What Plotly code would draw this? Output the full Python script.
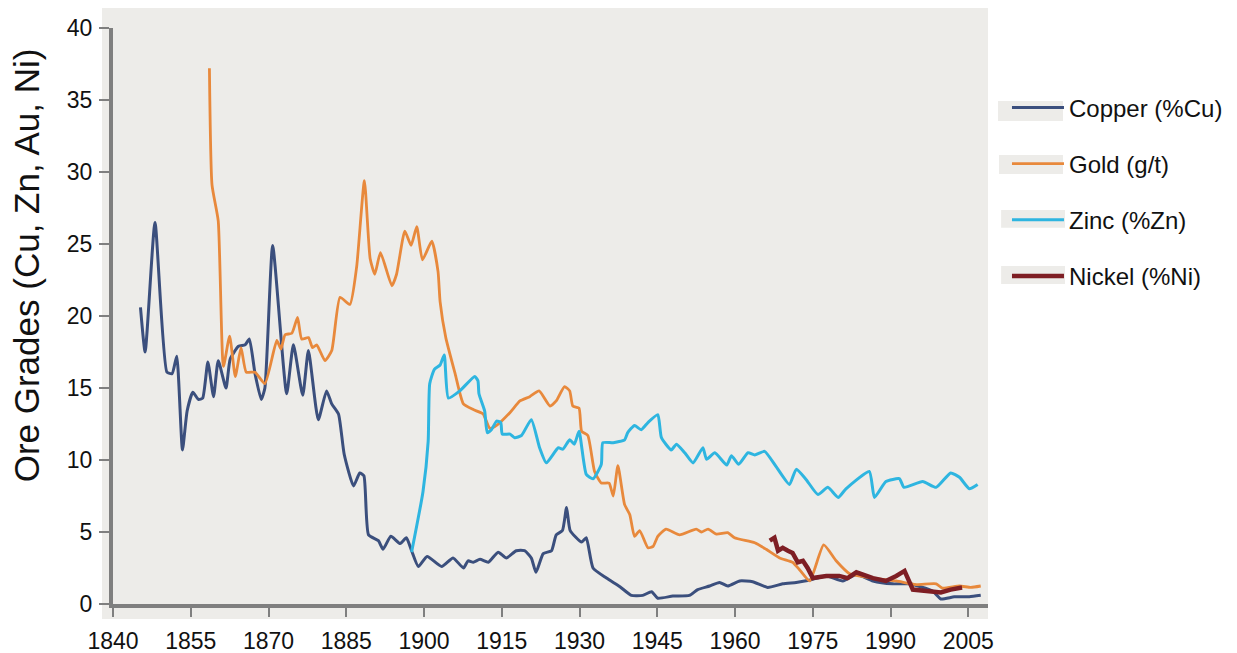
import plotly.graph_objects as go

# ---------------- data ----------------
copper_years = [1845.3, 1846.2, 1848.1, 1850.4, 1851.4, 1852.3, 1853.4, 1854.3, 1855.4, 1856.5,
                1857.3, 1858.3, 1859.4, 1860.3, 1861.8, 1862.6, 1864.2, 1865.5, 1866.3, 1867.4,
                1868.6, 1869.3, 1870.8, 1873.5, 1874.8, 1876.6, 1877.7, 1879.6, 1881.2, 1882.2,
                1883.5, 1884.6, 1886.4, 1887.6, 1888.4, 1889.3, 1891.2, 1892.1, 1893.6, 1895.4,
                1896.6, 1897.6, 1898.9, 1900.6, 1903.4, 1905.6, 1907.6, 1908.5, 1909.5, 1910.8,
                1912.4, 1914.3, 1915.9, 1917.8, 1919.4, 1920.7, 1921.6, 1923.0, 1924.6, 1925.5,
                1926.7, 1927.5, 1928.2, 1930.4, 1931.3, 1932.6, 1935.2, 1937.8, 1940.0, 1942.2,
                1943.9, 1945.1, 1948.0, 1951.2, 1952.8, 1955.1, 1957.0, 1958.6, 1960.9, 1963.4,
                1966.3, 1969.2, 1971.8, 1974.3, 1977.6, 1980.8, 1983.4, 1986.6, 1990.4, 1993.6,
                1998.1, 1999.7, 2002.3, 2005.2, 2007.4]
copper_values = [20.6, 17.5, 26.5, 16.1, 16.0, 17.2, 10.7, 13.4, 14.7, 14.2,
                 14.3, 16.8, 14.4, 16.9, 15.0, 17.0, 17.9, 18.0, 18.4, 16.0,
                 14.2, 15.0, 24.9, 14.6, 18.0, 14.5, 17.6, 12.8, 14.8, 13.9,
                 13.2, 10.4, 8.2, 9.1, 8.9, 4.8, 4.4, 3.8, 4.7, 4.2,
                 4.6, 3.7, 2.6, 3.3, 2.6, 3.2, 2.5, 3.0, 2.9, 3.1,
                 2.9, 3.6, 3.2, 3.7, 3.7, 3.2, 2.2, 3.5, 3.7, 4.8,
                 5.1, 6.7, 5.1, 4.3, 4.6, 2.5, 1.8, 1.2, 0.6, 0.6,
                 0.85, 0.4, 0.55, 0.6, 1.0, 1.25, 1.5, 1.25, 1.6, 1.55,
                 1.15, 1.4, 1.5, 1.65, 1.95, 1.6, 2.05, 1.6, 1.4, 1.4,
                 0.9, 0.35, 0.5, 0.5, 0.6]

gold_years = [1858.6, 1859.1, 1860.3, 1861.3, 1862.5, 1863.6, 1864.7, 1865.7, 1867.4, 1869.3,
              1871.6, 1872.4, 1873.2, 1874.5, 1875.6, 1876.4, 1877.7, 1878.5, 1879.3, 1880.9,
              1882.2, 1883.8, 1885.7, 1887.0, 1888.5, 1889.6, 1890.5, 1891.6, 1893.8, 1894.7,
              1896.3, 1897.5, 1898.6, 1899.7, 1901.5, 1902.7, 1903.1, 1904.2, 1906.0, 1907.6,
              1909.5, 1911.4, 1912.7, 1914.0, 1916.6, 1918.5, 1920.4, 1922.2, 1924.3, 1925.5,
              1927.1, 1928.1, 1928.7, 1929.9, 1930.4, 1931.6, 1932.9, 1934.2, 1935.7, 1936.5,
              1937.4, 1938.7, 1939.7, 1940.6, 1941.6, 1943.2, 1944.2, 1945.1, 1946.7, 1949.3,
              1952.5, 1953.5, 1954.8, 1956.4, 1958.6, 1959.9, 1963.8, 1966.0, 1968.6, 1971.1,
              1972.4, 1974.4, 1977.1, 1979.5, 1982.1, 1986.6, 1991.1, 1994.9, 1998.8, 2000.0,
              2003.3, 2005.5, 2007.4]
gold_values = [37.2, 29.1, 26.6, 16.5, 18.6, 15.8, 17.8, 16.1, 16.1, 15.3,
               18.3, 17.7, 18.7, 18.8, 19.9, 18.4, 18.5, 17.8, 18.0, 16.9,
               17.6, 21.3, 20.8, 23.4, 29.4, 24.0, 22.9, 24.4, 22.1, 22.9,
               25.9, 24.9, 26.2, 23.9, 25.2, 23.1, 21.0, 18.5, 16.0, 13.9,
               13.5, 13.2, 12.2, 12.4, 13.3, 14.1, 14.4, 14.8, 13.75, 14.1,
               15.1, 14.8, 13.75, 13.6, 12.0, 11.7, 9.2, 8.4, 8.4, 7.5,
               9.6, 6.9, 6.2, 4.7, 5.1, 3.9, 4.0, 4.7, 5.2, 4.8,
               5.2, 5.0, 5.2, 4.85, 4.95, 4.6, 4.25, 3.8, 3.2, 2.9,
               2.4, 1.6, 4.1, 3.0, 2.1, 1.8, 1.6, 1.35, 1.4, 1.1,
               1.25, 1.15, 1.25]

zinc_years = [1897.6, 1899.8, 1900.8, 1901.1, 1902.0, 1903.1, 1903.9, 1904.7, 1906.9, 1909.8,
              1910.4, 1910.6, 1911.7, 1912.2, 1913.0, 1914.0, 1914.8, 1915.1, 1916.6, 1917.5,
              1918.8, 1920.7, 1922.3, 1923.6, 1925.9, 1926.8, 1928.1, 1929.0, 1929.9, 1931.3,
              1932.6, 1934.2, 1934.5, 1936.5, 1938.7, 1939.3, 1940.6, 1941.9, 1943.2, 1945.1,
              1945.8, 1947.7, 1948.7, 1950.3, 1951.9, 1953.8, 1954.5, 1956.1, 1958.4, 1959.3,
              1960.7, 1962.5, 1963.8, 1965.7, 1968.0, 1970.5, 1971.8, 1973.7, 1976.0, 1977.9,
              1979.9, 1981.4, 1985.9, 1986.9, 1989.1, 1991.7, 1992.6, 1996.2, 1998.8, 2001.6,
              2003.3, 2005.2, 2006.8]
zinc_values = [3.6, 7.8, 11.3, 15.3, 16.3, 16.6, 17.3, 14.3, 14.8, 15.8,
               15.5, 14.6, 13.4, 11.9, 12.1, 12.7, 12.6, 11.8, 11.8, 11.55,
               11.7, 12.8, 10.85, 9.8, 10.85, 10.75, 11.4, 11.1, 12.0, 9.0,
               8.7, 9.7, 11.2, 11.2, 11.4, 11.9, 12.4, 12.1, 12.6, 13.15,
               11.55, 10.7, 11.1, 10.5, 9.8, 10.85, 10.05, 10.5, 9.65, 10.3,
               9.7, 10.5, 10.35, 10.6, 9.5, 8.3, 9.35, 8.65, 7.6, 8.1,
               7.4, 8.0, 9.2, 7.4, 8.5, 8.7, 8.1, 8.5, 8.1, 9.1,
               8.8, 8.0, 8.3]

nickel_years = [1966.7, 1967.6, 1968.3, 1969.2, 1970.2, 1971.1, 1972.1, 1973.1, 1974.0, 1975.0,
                1977.6, 1980.1, 1981.7, 1983.4, 1986.6, 1989.1, 1991.1, 1992.7, 1994.3, 1996.2,
                1998.1, 1999.7, 2001.6, 2003.8]
nickel_values = [4.4, 4.6, 3.7, 3.9, 3.7, 3.55, 2.9, 3.0, 2.5, 1.8,
                 1.95, 1.95, 1.8, 2.2, 1.8, 1.6, 1.95, 2.3, 1.0, 0.95,
                 0.9, 0.8, 1.0, 1.15]

series_names = ["Copper (%Cu)", "Gold (g/t)", "Zinc (%Zn)", "Nickel (%Ni)"]
x_ticks = [1840, 1855, 1870, 1885, 1900, 1915, 1930, 1945, 1960, 1975, 1990, 2005]
y_ticks = [0, 5, 10, 15, 20, 25, 30, 35, 40]
y_title = "Ore Grades (Cu, Zn, Au, Ni)"

# ---------------- styling ----------------
colors = ["#3B4F7D", "#E8893C", "#2EB5E0", "#7E1E24"]
widths = [3, 2.8, 3, 4.5]
shapes_kind = ["spline", "spline", "spline", "linear"]
BG = "#EDECE9"
AXIS = "#7F7F7F"
FONT = "Arial, Liberation Sans, sans-serif"
TXT = "#111111"

fig = go.Figure()
data = [(copper_years, copper_values), (gold_years, gold_values),
        (zinc_years, zinc_values), (nickel_years, nickel_values)]
for i, ((xs, ys), name) in enumerate(zip(data, series_names)):
    fig.add_trace(go.Scatter(
        x=xs, y=ys, name=name, mode="lines", legendgroup=name,
        line=dict(color=colors[i], width=widths[i], shape=shapes_kind[i], smoothing=0.5),
    ))

# grey panel behind the plot (slightly larger than the axes)
fig.add_shape(type="rect", xref="paper", yref="paper", layer="below",
              x0=-0.0126, x1=1.0, y0=-0.026, y1=1.0365,
              fillcolor=BG, line=dict(width=0))

# grey swatch backgrounds for the legend keys
swatch_boxes = [(1.0114, 1.0857, 0.8385, 0.8733), (1.0126, 1.0857, 0.7465, 0.7795),
                (1.0150, 1.0880, 0.6530, 0.6840), (1.0150, 1.0880, 0.5556, 0.5868)]
for (x0, x1, y0, y1) in swatch_boxes:
    fig.add_shape(type="rect", xref="paper", yref="paper", layer="below",
                  x0=x0, x1=x1, y0=y0, y1=y1, fillcolor=BG, line=dict(width=0))

# y-axis title, placed like the reference (centred above the plot middle)
fig.add_annotation(text=y_title, xref="paper", yref="paper", x=-0.0994, y=0.588,
                   xanchor="center", yanchor="middle", textangle=-90, showarrow=False,
                   font=dict(size=35, family=FONT, color=TXT))

# the page adds an 8px body margin, so the figure is 8px smaller than the window
fig.update_layout(
    width=1229, height=645,
    margin=dict(l=105, r=249, t=20, b=49, autoexpand=False),
    paper_bgcolor="white", plot_bgcolor=BG,
    font=dict(family=FONT, color=TXT),
    showlegend=True,
    legend=dict(x=1.0217, y=0.9005, xanchor="left", yanchor="top",
                bgcolor="rgba(0,0,0,0)", borderwidth=0,
                font=dict(size=24, family=FONT, color=TXT),
                itemwidth=52, tracegroupgap=22, traceorder="grouped"),
    xaxis=dict(range=[1840, 2008.8], tickmode="array", tickvals=x_ticks,
               showgrid=False, zeroline=False, showline=True, linecolor=AXIS, linewidth=4,
               ticks="outside", ticklen=9, tickwidth=2, tickcolor=AXIS,
               tickfont=dict(size=23, family=FONT, color=TXT),
               ticklabelstandoff=4, automargin=False),
    yaxis=dict(range=[0, 40], tickmode="array", tickvals=y_ticks,
               showgrid=False, zeroline=False, showline=True, linecolor=AXIS, linewidth=4,
               ticks="outside", ticklen=10, tickwidth=2, tickcolor=AXIS,
               tickfont=dict(size=23, family=FONT, color=TXT),
               ticklabelstandoff=2, automargin=False),
)

fig.write_html("out.html")
